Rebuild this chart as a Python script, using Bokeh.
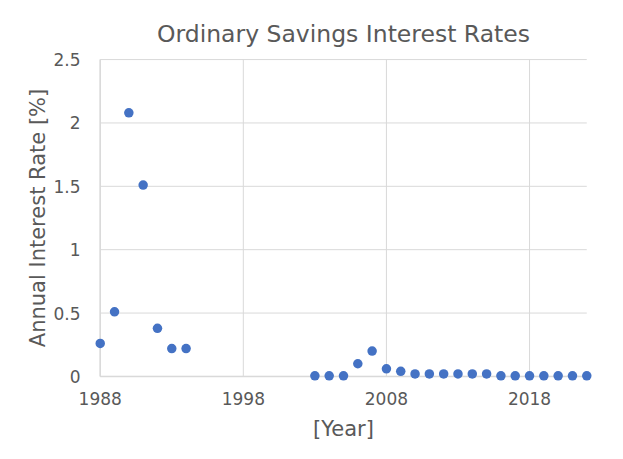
from bokeh.plotting import figure
from bokeh.models import Range1d, FixedTicker, Title
from bokeh.embed import file_html
from bokeh.resources import INLINE

years = [1988, 1989, 1990, 1991, 1992, 1993, 1994,
         2003, 2004, 2005, 2006, 2007, 2008, 2009, 2010, 2011, 2012,
         2013, 2014, 2015, 2016, 2017, 2018, 2019, 2020, 2021, 2022]
rates = [0.26, 0.51, 2.08, 1.51, 0.38, 0.22, 0.22,
         0.005, 0.005, 0.005, 0.10, 0.20, 0.06, 0.04, 0.02, 0.02, 0.02,
         0.02, 0.02, 0.02, 0.005, 0.005, 0.005, 0.005, 0.005, 0.005, 0.005]

x_ticks = [1988, 1998, 2008, 2018]
x_end = 2022
y_ticks = [0, 0.5, 1, 1.5, 2, 2.5]
y_tick_labels = ["0", "0.5", "1", "1.5", "2", "2.5"]

FONT = "DejaVu Sans"
TXT = "#595959"
GRID = "#d9d9d9"

p = figure(frame_width=498, frame_height=327,
           min_border_left=94, min_border_right=20,
           min_border_top=54, min_border_bottom=66,
           x_range=Range1d(1987.6, 2022.4), y_range=Range1d(-0.04, 2.54),
           output_backend="svg", toolbar_location=None,
           outline_line_color=None, background_fill_color="white")

p.add_layout(Title(text="Ordinary Savings Interest Rates", align="center",
                   vertical_align="top",
                   text_font=FONT, text_font_size="23.5px", text_font_style="normal",
                   text_color=TXT, standoff=10), "above")

p.grid.visible = False

# gridlines (horizontal)
p.segment(x0=[x_ticks[0]] * len(y_ticks), x1=[x_end] * len(y_ticks),
          y0=y_ticks, y1=y_ticks, line_color=GRID, line_width=1)
# gridlines (vertical)
p.segment(x0=x_ticks, x1=x_ticks, y0=[y_ticks[0]] * len(x_ticks),
          y1=[y_ticks[-1]] * len(x_ticks), line_color=GRID, line_width=1)
# axis lines
p.segment(x0=[x_ticks[0]], x1=[x_ticks[0]], y0=[y_ticks[0]], y1=[y_ticks[-1]],
          line_color=GRID, line_width=1.5)
p.segment(x0=[x_ticks[0]], x1=[x_end], y0=[y_ticks[0]], y1=[y_ticks[0]],
          line_color=GRID, line_width=1.5)

p.scatter(years, rates, size=9.5, fill_color="#4472C4", line_color=None)

for ax in (p.xaxis[0], p.yaxis[0]):
    ax.axis_line_color = None
    ax.major_tick_line_color = None
    ax.minor_tick_line_color = None
    ax.major_label_text_font = FONT
    ax.major_label_text_font_size = "17px"
    ax.major_label_text_color = TXT
    ax.axis_label_text_font = FONT
    ax.axis_label_text_font_size = "21px"
    ax.axis_label_text_font_style = "normal"
    ax.axis_label_text_color = TXT

p.xaxis.ticker = FixedTicker(ticks=x_ticks)
p.xaxis.major_label_overrides = {t: str(t) for t in x_ticks}
p.xaxis.major_label_standoff = 4
p.xaxis.axis_label = "[Year]"
p.xaxis.axis_label_standoff = 9

p.yaxis.ticker = FixedTicker(ticks=y_ticks)
p.yaxis.major_label_overrides = {t: s for t, s in zip(y_ticks, y_tick_labels)}
p.yaxis.major_label_standoff = 8
p.yaxis.axis_label = "Annual Interest Rate [%]"
p.yaxis.axis_label_standoff = 0

open("out.html", "w").write(file_html(p, INLINE))
